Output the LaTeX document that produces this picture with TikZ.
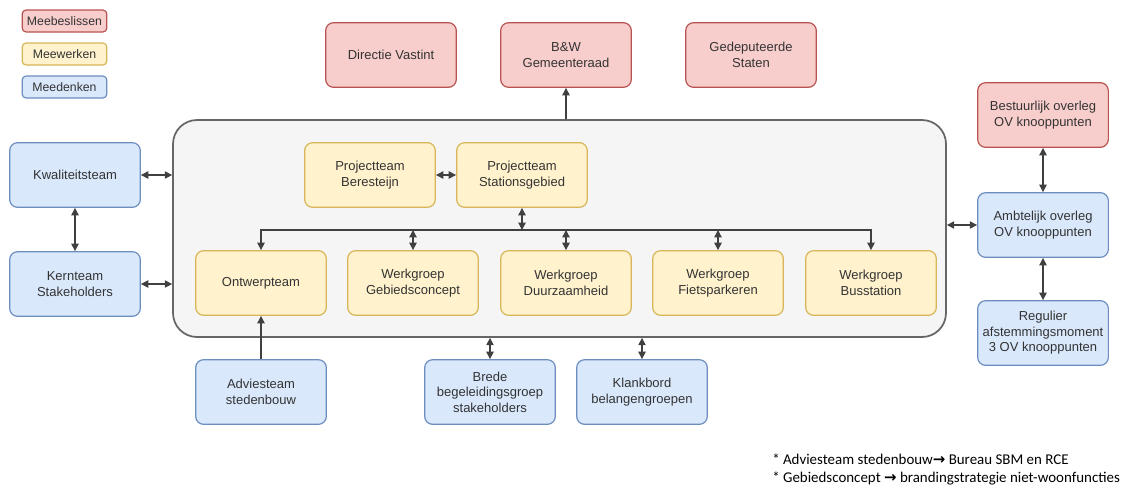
\documentclass[tikz,border=0pt]{standalone}
\usepackage{fontspec}
\setmainfont{Liberation Sans}
\newfontfamily\notefont{Carlito}
\newfontfamily\symfont{DejaVu Sans}
\usetikzlibrary{arrows.meta,positioning}

\definecolor{roodvul}{HTML}{F8CECC}
\definecolor{roodlijn}{HTML}{B85450}
\definecolor{geelvul}{HTML}{FFF2CC}
\definecolor{geellijn}{HTML}{D6B656}
\definecolor{blauwvul}{HTML}{DAE8FC}
\definecolor{blauwlijn}{HTML}{6C8EBF}
\definecolor{kadervul}{HTML}{F5F5F5}
\definecolor{kaderlijn}{HTML}{666666}
\definecolor{tekst}{HTML}{333333}

\tikzset{
  blok/.style={rounded corners=6pt, line width=0.9pt, align=center,
    minimum width=98pt, minimum height=48.5pt, inner sep=1pt,
    text=tekst, font=\fontsize{9.75}{11.6}\selectfont},
  beslis/.style={blok, fill=roodvul, draw=roodlijn},
  werk/.style={blok, fill=geelvul, draw=geellijn},
  denk/.style={blok, fill=blauwvul, draw=blauwlijn},
  legenda/.style={minimum width=63.5pt, minimum height=16.5pt, rounded corners=3pt,
    font=\fontsize{9.2}{11}\selectfont},
  pijl/.style={draw=black!75, line width=0.9pt, -{Triangle[length=5.5pt,width=5.5pt]}},
  dubbel/.style={draw=black!75, line width=0.9pt, {Triangle[length=5.5pt,width=5.5pt]}-{Triangle[length=5.5pt,width=5.5pt]}}
}

\begin{document}
\begin{tikzpicture}[x=0.75pt, y=-0.75pt]
   \useasboundingbox[fill=white] (0,0) rectangle (1130,487);

   % legenda
   \node[beslis, legenda] (leg1) at (64.5,21) {Meebeslissen};
   \node[werk, legenda] (leg2) at (64.5,54) {Meewerken};
   \node[denk, legenda] (leg3) at (64.5,87) {Meedenken};

   % bovenste rij
   \node[beslis] (directie) at (391,55) {Directie Vastint};
   \node[beslis] (bw) at (566,55) {B\&W\\Gemeenteraad};
   \node[beslis] (staten) at (751,55) {Gedeputeerde\\Staten};

   % kader
   \node[draw=kaderlijn, fill=kadervul, line width=1.3pt, rounded corners=18pt,
         minimum width=579.75pt, minimum height=162.75pt] (kader) at (559.5,228.5) {};

   \node[werk] (beresteijn) at (370,175) {Projectteam\\Beresteijn};
   \node[werk] (station) at (522,175) {Projectteam\\Stationsgebied};

   \node[werk] (ontwerp) at (261,283) {Ontwerpteam};
   \node[werk] (gebied) at (413,283) {Werkgroep\\Gebiedsconcept};
   \node[werk] (duurzaam) at (566,283) {Werkgroep\\Duurzaamheid};
   \node[werk] (fiets) at (718,283) {Werkgroep\\Fietsparkeren};
   \node[werk] (bus) at (871,283) {Werkgroep\\Busstation};
   \coordinate (lijn) at (566,230);

   % links
   \node[denk] (kwaliteit) at (75,175) {Kwaliteitsteam};
   \node[denk] (kern) at (75,284) {Kernteam\\Stakeholders};

   % onder
   \node[denk] (advies) at (261,392) {Adviesteam\\stedenbouw};
   \node[denk] (brede) at (490,392) {Brede\\begeleidingsgroep\\stakeholders};
   \node[denk] (klank) at (642,392) {Klankbord\\belangengroepen};

   % rechts
   \node[beslis] (bestuur) at (1043,115) {Bestuurlijk overleg\\OV knooppunten};
   \node[denk] (ambt) at (1043,225) {Ambtelijk overleg\\OV knooppunten};
   \node[denk] (regulier) at (1043,333) {Regulier\\afstemmingsmoment\\3 OV knooppunten};

   % verbindingen
   \draw[pijl] (kader.north -| bw) -- (bw.south);
   \draw[dubbel] (beresteijn) -- (station);
   \draw[dubbel] (station.south) -- (station.south |- lijn);
   \draw[dubbel] (ontwerp.north) |- (lijn) -| (bus.north);
   \draw[dubbel] (lijn -| gebied) -- (gebied.north);
   \draw[dubbel] (lijn) -- (duurzaam.north);
   \draw[dubbel] (lijn -| fiets) -- (fiets.north);
   \draw[dubbel] (kwaliteit) -- (kader.west |- kwaliteit);
   \draw[dubbel] (kern) -- (kader.west |- kern);
   \draw[dubbel] (kwaliteit) -- (kern);
   \draw[pijl] (advies) -- (ontwerp);
   \draw[dubbel] (brede) -- (kader.south -| brede);
   \draw[dubbel] (klank) -- (kader.south -| klank);
   \draw[dubbel] (ambt) -- (kader.east |- ambt);
   \draw[dubbel] (bestuur) -- (ambt);
   \draw[dubbel] (ambt) -- (regulier);

   % voetnoot
   \node[anchor=north west, align=left, inner sep=0pt, font=\notefont\fontsize{11.2}{13.5}\selectfont] (noot) at (772,454)
     {* Adviesteam stedenbouw{\symfont\bfseries→} Bureau SBM en RCE\\
      * Gebiedsconcept {\symfont\bfseries→} brandingstrategie niet-woonfuncties};
\end{tikzpicture}
\end{document}
